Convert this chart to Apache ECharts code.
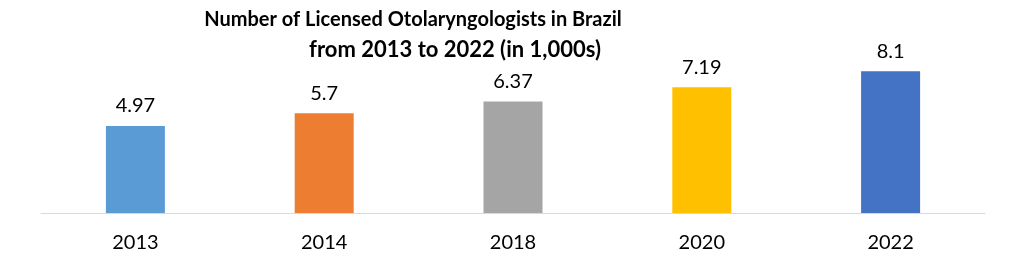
<!DOCTYPE html>
<html><head><meta charset="utf-8">
<script src="https://cdn.jsdelivr.net/npm/echarts@6/dist/echarts.min.js"></script>
<style>html,body{margin:0;padding:0;background:#fff}#c{width:1015px;height:261px}</style>
</head><body><div id="c"></div>
<script>
const categories = ['2013', '2014', '2018', '2020', '2022'];
const values = [4.97, 5.7, 6.37, 7.19, 8.1];
const valueLabels = ['4.97', '5.7', '6.37', '7.19', '8.1'];
const colors = ['#5B9BD5', '#ED7D31', '#A5A5A5', '#FFC000', '#4472C4'];
const titleLines = ['Number of Licensed Otolaryngologists in Brazil', 'from 2013 to 2022 (in 1,000s)'];

const chart = echarts.init(document.getElementById('c'));
chart.setOption({
  animation: false,
  textStyle: { fontFamily: 'Lato' },
  title: [
    { text: titleLines[0], left: 408, top: 5, textAlign: 'center',
      textStyle: { fontFamily: 'Lato', fontWeight: 'bold', fontSize: 20, color: '#000' } },
    { text: titleLines[1], left: 450, top: 34, textAlign: 'center',
      textStyle: { fontFamily: 'Lato', fontWeight: 'bold', fontSize: 22, color: '#000' } }
  ],
  grid: { left: 41, right: 30, top: 38, bottom: 48 },
  xAxis: {
    type: 'category', data: categories,
    axisLine: { lineStyle: { color: '#D9D9D9', width: 1 } },
    axisTick: { show: false },
    axisLabel: { fontSize: 20, color: '#000', margin: 20, fontFamily: 'Lato' }
  },
  yAxis: { type: 'value', min: 0, max: 10, show: false, splitLine: { show: false } },
  series: [{
    type: 'bar', barWidth: 59,
    data: values.map((v, i) => ({ value: v, itemStyle: { color: colors[i] } })),
    label: { show: true, position: 'top', distance: 10, fontSize: 20, color: '#000', fontFamily: 'Lato',
      formatter: p => valueLabels[p.dataIndex] }
  }]
});
</script></body></html>
